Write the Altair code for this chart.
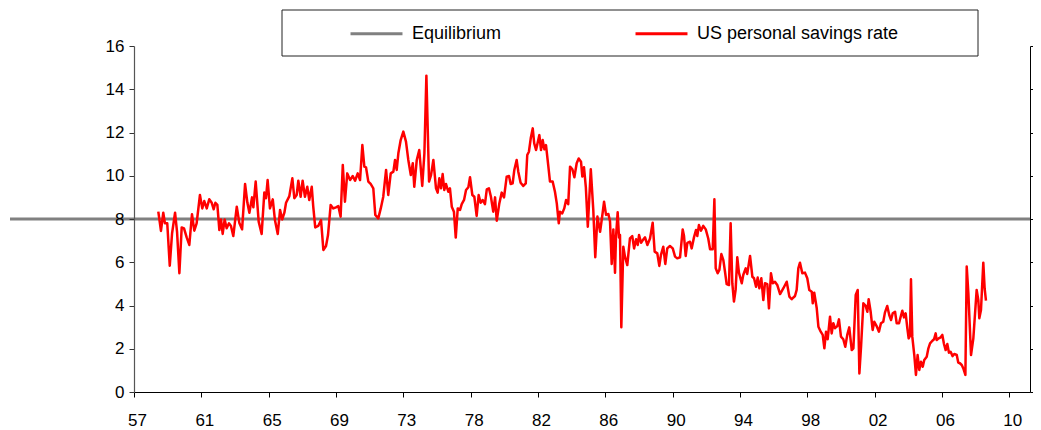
import altair as alt
import pandas as pd

# ---------------- data ----------------
SERIES_NAMES = ["Equilibrium", "US personal savings rate"]
SERIES_COLORS = ["#808080", "#ff0000"]
EQUILIBRIUM_LEVEL = [8.0]

YEARS_A = [1959.00, 1959.16, 1959.30, 1959.40, 1959.54, 1959.69, 1959.83, 1960.01, 1960.13, 1960.27,
           1960.41, 1960.55, 1960.71, 1960.87, 1961.03, 1961.17, 1961.31, 1961.51, 1961.65, 1961.77,
           1961.92, 1962.07, 1962.22, 1962.34, 1962.44, 1962.56, 1962.68, 1962.78, 1962.88, 1963.00,
           1963.12, 1963.26, 1963.38, 1963.52, 1963.73, 1963.88, 1964.05, 1964.23, 1964.37, 1964.49,
           1964.65, 1964.73, 1964.87, 1965.05, 1965.23, 1965.39, 1965.49, 1965.59, 1965.73, 1965.90,
           1966.03, 1966.20, 1966.34, 1966.47, 1966.60, 1966.70, 1966.90, 1967.08, 1967.20, 1967.34,
           1967.44, 1967.58, 1967.70, 1967.84, 1967.98, 1968.10, 1968.25, 1968.34, 1968.46, 1968.64,
           1968.81, 1968.95, 1969.11, 1969.23, 1969.39, 1969.55, 1969.71, 1969.85, 1969.99, 1970.12,
           1970.25, 1970.39, 1970.56, 1970.72, 1970.86, 1971.02, 1971.16, 1971.30, 1971.42, 1971.52,
           1971.66, 1971.80, 1971.96, 1972.08, 1972.26, 1972.41, 1972.56, 1972.73, 1972.86, 1973.01,
           1973.17, 1973.27, 1973.37, 1973.47]
RATES_A = [8.34, 7.45, 8.29, 7.80, 7.80, 5.84, 7.34, 8.29, 7.41, 5.49,
           7.61, 7.57, 7.15, 6.80, 8.22, 7.46, 7.80, 9.11, 8.49, 8.83,
           8.49, 8.91, 8.75, 8.45, 8.75, 8.65, 7.49, 7.98, 7.31, 7.98,
           7.57, 7.80, 7.68, 7.21, 8.57, 7.83, 7.52, 9.62, 8.75, 8.29,
           9.00, 8.54, 9.73, 7.88, 7.31, 9.22, 8.96, 9.80, 8.49, 8.91,
           7.95, 7.31, 8.42, 7.98, 8.29, 8.75, 9.06, 9.88, 8.96, 9.11,
           9.77, 9.03, 9.77, 9.03, 9.49, 8.88, 9.49, 8.57, 7.61, 7.68,
           7.95, 6.57, 6.75, 7.26, 8.65, 8.49, 8.54, 8.60, 8.11, 10.50,
           8.80, 10.11, 9.80, 9.99, 9.77, 10.11, 9.80, 11.42, 10.42, 10.39,
           9.73, 9.62, 9.42, 8.19, 8.03, 8.49, 9.03, 10.27, 9.11, 10.11,
           10.19, 10.73, 10.27, 11.04]

YEARS_B = [1973.61, 1973.77, 1973.93, 1974.07, 1974.22, 1974.34, 1974.43, 1974.58, 1974.73, 1974.91,
           1975.04, 1975.16, 1975.32, 1975.44, 1975.58, 1975.74, 1975.84, 1975.94, 1976.04, 1976.14,
           1976.24, 1976.34, 1976.48, 1976.58, 1976.69, 1976.82, 1976.93, 1977.05, 1977.19, 1977.29,
           1977.43, 1977.55, 1977.69, 1977.79, 1977.93, 1978.05, 1978.19, 1978.31, 1978.43, 1978.55,
           1978.69, 1978.80, 1978.93, 1979.05, 1979.19, 1979.30, 1979.40, 1979.55, 1979.70, 1979.84,
           1980.00, 1980.14, 1980.24, 1980.36, 1980.46, 1980.60, 1980.70, 1980.84, 1981.00, 1981.15,
           1981.24, 1981.34, 1981.45, 1981.57, 1981.66, 1981.77, 1981.85, 1981.97, 1982.07, 1982.17,
           1982.27, 1982.37, 1982.51, 1982.61, 1982.77, 1982.91, 1983.02, 1983.14, 1983.21, 1983.35,
           1983.47, 1983.58, 1983.71, 1983.82, 1983.96, 1984.08, 1984.22, 1984.34, 1984.48, 1984.56,
           1984.66, 1984.77]
RATES_B = [11.65, 12.04, 11.58, 10.73, 10.03, 10.58, 9.49, 10.73, 11.19, 9.53,
           11.04, 14.63, 9.73, 10.03, 10.73, 9.42, 9.22, 9.88, 9.42, 10.08,
           9.34, 9.62, 9.26, 9.42, 8.57, 8.34, 7.14, 8.49, 8.42, 8.69,
           8.88, 9.34, 9.47, 9.93, 9.11, 9.03, 8.14, 9.11, 8.75, 8.88,
           8.69, 9.37, 9.42, 9.03, 8.34, 9.00, 7.92, 8.69, 9.22, 9.00,
           9.96, 9.99, 9.62, 9.65, 10.27, 10.73, 10.19, 9.68, 9.53, 9.65,
           10.96, 11.11, 11.73, 12.19, 11.50, 11.19, 11.47, 11.88, 11.19, 11.65,
           11.22, 11.42, 10.45, 9.73, 9.73, 9.26, 8.72, 7.80, 8.34, 8.26,
           8.49, 8.88, 8.69, 10.42, 10.30, 9.93, 10.58, 10.80, 10.65, 9.96,
           10.39, 9.49]

YEARS_C = [1984.89, 1985.07, 1985.22, 1985.34, 1985.47, 1985.63, 1985.76, 1985.87, 1985.99, 1986.13,
           1986.23, 1986.33, 1986.43, 1986.53, 1986.59, 1986.69, 1986.77, 1986.83, 1986.91, 1987.03,
           1987.13, 1987.27, 1987.43, 1987.57, 1987.68, 1987.80, 1987.90, 1987.98, 1988.10, 1988.24,
           1988.34, 1988.48, 1988.64, 1988.80, 1988.92, 1989.08, 1989.20, 1989.30, 1989.44, 1989.56,
           1989.68, 1989.84, 1990.01, 1990.15, 1990.28, 1990.45, 1990.61, 1990.69, 1990.79, 1990.89,
           1991.05, 1991.15, 1991.29, 1991.41, 1991.49, 1991.59, 1991.71, 1991.85, 1992.00, 1992.15,
           1992.26, 1992.42, 1992.52, 1992.60, 1992.72, 1992.82, 1992.94, 1993.06, 1993.16, 1993.26,
           1993.40, 1993.50, 1993.60, 1993.70, 1993.80, 1993.90, 1994.00, 1994.17, 1994.26, 1994.41,
           1994.50, 1994.67, 1994.81, 1994.91, 1995.03, 1995.13, 1995.23, 1995.35, 1995.47, 1995.57,
           1995.71, 1995.81, 1995.93, 1996.04, 1996.17, 1996.31]
RATES_C = [7.64, 10.30, 8.42, 6.23, 8.11, 7.41, 8.14, 8.80, 8.19, 8.23,
           7.88, 5.92, 7.52, 5.52, 7.18, 8.31, 7.15, 7.26, 2.99, 6.72,
           6.26, 5.87, 7.10, 7.21, 6.64, 7.06, 6.80, 7.26, 6.90, 7.06,
           7.15, 6.80, 7.10, 7.83, 6.49, 6.41, 5.83, 6.34, 6.72, 5.92,
           6.64, 6.75, 6.64, 6.26, 6.18, 6.23, 7.52, 7.21, 6.29, 6.90,
           6.95, 6.64, 7.15, 7.49, 7.21, 7.72, 7.46, 7.68, 7.52, 7.10,
           6.60, 6.60, 8.91, 5.72, 5.49, 5.64, 6.38, 6.10, 5.56, 4.99,
           4.95, 7.80, 5.03, 4.18, 4.72, 6.23, 5.52, 5.03, 5.41, 5.72,
           5.46, 6.29, 5.33, 5.26, 4.87, 5.29, 4.80, 5.26, 4.25, 5.03,
           4.99, 3.87, 5.49, 5.03, 5.10, 4.95]

YEARS_D = [1996.48, 1996.68, 1996.88, 1997.04, 1997.18, 1997.38, 1997.48, 1997.58, 1997.68, 1997.82,
           1997.98, 1998.12, 1998.24, 1998.39, 1998.45, 1998.54, 1998.69, 1998.79, 1998.93, 1999.05,
           1999.15, 1999.25, 1999.35, 1999.49, 1999.59, 1999.69, 1999.79, 1999.93, 2000.03, 2000.15,
           2000.29, 2000.41, 2000.53, 2000.65, 2000.80, 2000.90, 2001.04, 2001.16, 2001.26, 2001.36,
           2001.50, 2001.64, 2001.74, 2001.82, 2001.94, 2002.06, 2002.16, 2002.30, 2002.44, 2002.56,
           2002.70, 2002.80, 2002.94, 2003.06, 2003.17, 2003.27, 2003.41, 2003.51, 2003.65, 2003.75,
           2003.85, 2003.95, 2004.05, 2004.15, 2004.23, 2004.31, 2004.37, 2004.45, 2004.57, 2004.67,
           2004.77, 2004.87, 2004.97, 2005.08, 2005.17, 2005.32, 2005.42, 2005.52, 2005.66, 2005.76,
           2005.86, 2005.92, 2006.04, 2006.16, 2006.26, 2006.36, 2006.46, 2006.56, 2006.66, 2006.76,
           2006.88, 2006.98, 2007.13, 2007.22, 2007.32, 2007.43, 2007.52, 2007.65, 2007.73, 2007.83,
           2007.99, 2008.13, 2008.33, 2008.43, 2008.49, 2008.59, 2008.73, 2008.81, 2008.89]
RATES_D = [4.53, 4.80, 5.10, 4.41, 4.29, 4.44, 4.72, 5.72, 5.98, 5.49,
           5.52, 5.26, 4.72, 4.64, 4.10, 4.59, 3.87, 3.02, 2.79, 2.64,
           2.02, 2.79, 2.44, 3.48, 2.71, 3.18, 2.95, 3.05, 3.36, 2.56,
           2.44, 2.09, 2.64, 2.99, 1.94, 2.02, 4.49, 4.72, 0.86, 2.09,
           4.10, 3.98, 3.71, 4.29, 3.71, 2.87, 3.25, 3.05, 2.79, 3.18,
           3.25, 3.67, 3.98, 3.56, 3.33, 3.64, 3.71, 3.18, 3.18, 3.48,
           3.76, 3.45, 3.64, 2.95, 2.48, 2.59, 5.21, 2.56, 1.71, 0.79,
           1.71, 1.02, 1.40, 1.17, 1.48, 1.63, 2.02, 2.25, 2.37, 2.44,
           2.71, 2.40, 2.48, 2.53, 2.64, 2.22, 1.94, 2.22, 1.82, 1.86,
           1.66, 1.76, 1.71, 1.36, 1.33, 1.25, 1.10, 0.79, 5.80, 4.56,
           1.71, 2.48, 4.72, 4.25, 3.41, 3.79, 5.98, 4.80, 4.22]

# axis ticks / labels
XTICK_LABELS = ["57", "61", "65", "69", "73", "78", "82", "86", "90", "94", "98", "02", "06", "10"]
XTICK_START = 1957.535
XTICK_STEP = 4.0585
X_DOMAIN = [1957.535, 2011.545]
Y_TICKS = [0, 2, 4, 6, 8, 10, 12, 14, 16]
Y_DOMAIN = [0, 16]

# ---------------- build tables ----------------
years = YEARS_A + YEARS_B + YEARS_C + YEARS_D
rates = RATES_A + RATES_B + RATES_C + RATES_D
rate_df = pd.DataFrame({"series": SERIES_NAMES[1], "year": years, "rate": rates})
eq_df = pd.DataFrame({"series": [SERIES_NAMES[0]], "value": EQUILIBRIUM_LEVEL})
frame_df = pd.DataFrame({"box": [0]})

xtick_values = [round(XTICK_START + XTICK_STEP * i, 4) for i in range(len(XTICK_LABELS))]
label_array = "[" + ",".join("'%s'" % s for s in XTICK_LABELS) + "]"
x_label_expr = "%s[round((datum.value - %s) / %s)]" % (label_array, XTICK_START, XTICK_STEP)

FONT = "Liberation Sans"
W, H = 896, 346

color = alt.Color(
    "series:N",
    scale=alt.Scale(domain=SERIES_NAMES, range=SERIES_COLORS),
    legend=alt.Legend(
        title=None,
        orient="none",
        legendX=215,
        legendY=-40,
        direction="horizontal",
        padding=0,
        symbolType="stroke",
        symbolSize=2700,
        symbolStrokeWidth=3,
        labelFont=FONT,
        labelFontSize=18,
        labelColor="black",
        labelOffset=8,
        labelLimit=0,
        columnPadding=127,
    ),
)

# legend frame (box drawn behind the legend entries)
frame = alt.Chart(frame_df).mark_rect(fill="white", stroke="#222222", strokeWidth=1).encode(
    x=alt.value(148), x2=alt.value(844), y=alt.value(-36), y2=alt.value(10)
)

rule = alt.Chart(eq_df).mark_rule(strokeWidth=3).encode(
    y=alt.Y(
        "value:Q",
        scale=alt.Scale(domain=Y_DOMAIN, nice=False, zero=True),
        axis=alt.Axis(
            orient="left", values=Y_TICKS, title=None, grid=False,
            tickSize=5, tickColor="#333333", domainColor="#555555", domainWidth=1.2,
            labelFont=FONT, labelFontSize=17, labelColor="black", labelPadding=5,
            zindex=1,
        ),
    ),
    x=alt.value(-124),
    x2=alt.value(W),
    color=color,
)

line = alt.Chart(rate_df).mark_line(strokeWidth=2.5, strokeJoin="round").encode(
    x=alt.X(
        "year:Q",
        scale=alt.Scale(domain=X_DOMAIN, nice=False, zero=False),
        axis=alt.Axis(
            values=xtick_values, labelExpr=x_label_expr, title=None, grid=False,
            tickSize=5, tickColor="black", domainColor="black",
            labelFont=FONT, labelFontSize=17, labelColor="black",
            labelPadding=15, labelOffset=3, labelFlush=False, labelOverlap=False,
        ),
    ),
    y=alt.Y(
        "rate:Q",
        scale=alt.Scale(domain=Y_DOMAIN, nice=False, zero=True),
        axis=alt.Axis(
            orient="right", values=Y_TICKS, labels=False, title=None, grid=False,
            tickSize=3, tickColor="black", domainColor="black",
        ),
    ),
    color=color,
)

chart = (
    alt.layer(frame, rule, line)
    .resolve_scale(y="independent")
    .properties(
        width=W,
        height=H,
        autosize=alt.AutoSizeParams(type="none"),
        padding={"left": 126, "top": 38, "right": 3, "bottom": 40},
        background="white",
    )
    .configure_view(stroke=None)
)

chart.save("out.html", embed_options={"renderer": "svg", "actions": False})
